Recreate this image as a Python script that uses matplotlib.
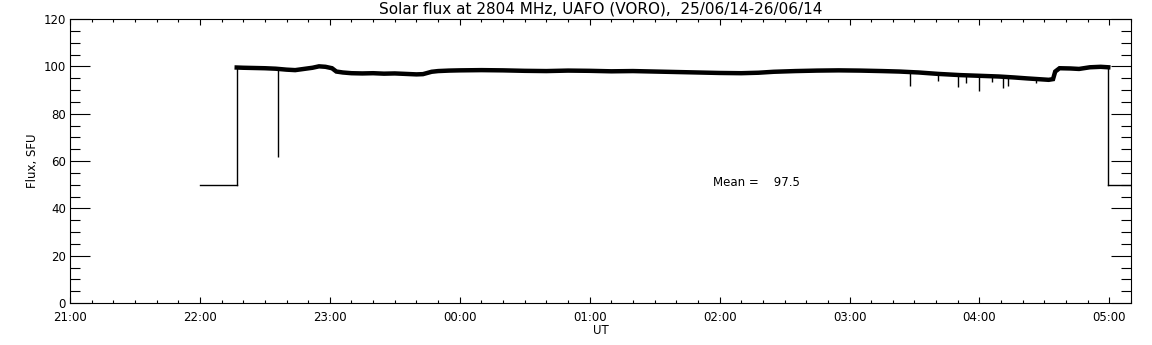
import numpy as np
import matplotlib
matplotlib.use("Agg")
import matplotlib.pyplot as plt
from matplotlib.ticker import MultipleLocator, FixedLocator, FixedFormatter

# ---- data (time in minutes after 21:00 UT, flux in SFU) ----
gap_start_t = [60, 77]          # no-signal level before the record
gap_start_v = [50, 50]
gap_end_t = [479.5, 490]        # no-signal level after the record
gap_end_v = [50, 50]

level_t = [77, 80, 85, 90, 95, 100, 104, 108, 112, 115, 118, 121, 123, 126,
           130, 135, 140, 145, 150, 155, 160, 163, 167, 170, 175, 180, 190,
           200, 210, 220, 230, 240, 250, 260, 270, 280, 290, 300, 310, 318,
           325, 335, 345, 355, 365, 375, 383, 392, 401, 411, 420, 429, 436,
           442, 447, 452, 454, 455, 457, 462, 466, 471, 476, 479.5]
level_v = [99.5, 99.4, 99.3, 99.2, 99.0, 98.6, 98.4, 98.9, 99.4, 100.0, 99.8,
           99.2, 97.8, 97.4, 97.1, 97.0, 97.1, 96.9, 97.0, 96.8, 96.6, 96.7,
           97.7, 98.0, 98.2, 98.3, 98.4, 98.3, 98.1, 98.0, 98.2, 98.1, 97.9,
           98.0, 97.8, 97.6, 97.4, 97.2, 97.1, 97.3, 97.7, 98.0, 98.2, 98.3,
           98.2, 98.0, 97.8, 97.4, 96.8, 96.3, 96.0, 95.7, 95.3, 94.9, 94.6,
           94.3, 94.6, 97.8, 99.2, 99.1, 98.9, 99.6, 99.8, 99.6]

spike_t = [96, 388, 401, 410, 414, 420, 426, 431, 433, 446]
spike_v = [61.5, 91.8, 93.6, 91.2, 93.0, 89.7, 93.4, 90.7, 91.8, 92.8]

mean_value = 97.5

x_ticks = [0, 60, 120, 180, 240, 300, 360, 420, 480]
x_labels = ["21:00", "22:00", "23:00", "00:00", "01:00", "02:00", "03:00",
            "04:00", "05:00"]

title = "Solar flux at 2804 MHz, UAFO (VORO),  25/06/14-26/06/14"

# ---- figure ----
fig = plt.figure(figsize=(11.52, 3.45), dpi=100)
ax = fig.add_axes([70 / 1152, 42 / 345, 1061 / 1152, 284 / 345])

lw_thin = 1.0
ax.plot(gap_start_t, gap_start_v, color="black", lw=lw_thin)
ax.plot(gap_end_t, gap_end_v, color="black", lw=lw_thin)
# step edges
ax.plot([level_t[0], level_t[0]], [gap_start_v[-1], level_v[0]], color="black", lw=lw_thin)
ax.plot([level_t[-1], level_t[-1]], [level_v[-1], gap_end_v[0]], color="black", lw=lw_thin)
# noisy plateau drawn as a thick band
ax.plot(level_t, level_v, color="black", lw=3.2, solid_joinstyle="miter")
# downward spikes
base = np.interp(spike_t, level_t, level_v)
ax.vlines(spike_t, spike_v, base, color="black", lw=lw_thin)

ax.text(296.8, 51.1, "Mean =    %.1f" % mean_value, fontsize=8.5,
        ha="left", va="center")

ax.set_xlim(0, 490)
ax.set_ylim(0, 120)

ax.xaxis.set_major_locator(FixedLocator(x_ticks))
ax.xaxis.set_major_formatter(FixedFormatter(x_labels))
ax.xaxis.set_minor_locator(MultipleLocator(10))
ax.yaxis.set_major_locator(MultipleLocator(20))
ax.yaxis.set_minor_locator(MultipleLocator(5))

ax.tick_params(axis="x", which="major", direction="in", length=4, width=0.8,
               top=True, bottom=True, labelsize=8.5, pad=6)
ax.tick_params(axis="x", which="minor", direction="in", length=2.2, width=0.8,
               top=True, bottom=True)
ax.tick_params(axis="y", which="major", direction="in", length=14.4, width=0.8,
               left=True, right=True, labelsize=8.5, pad=3)
ax.tick_params(axis="y", which="minor", direction="in", length=7.2, width=0.8,
               left=True, right=True)
for s in ax.spines.values():
    s.set_linewidth(0.8)

ax.set_xlabel("UT", fontsize=8.5, labelpad=0)
ax.set_ylabel("Flux, SFU", fontsize=8.5, labelpad=3)
ax.set_title(title, fontsize=11, pad=4)

fig.savefig("out.png", dpi=100)
